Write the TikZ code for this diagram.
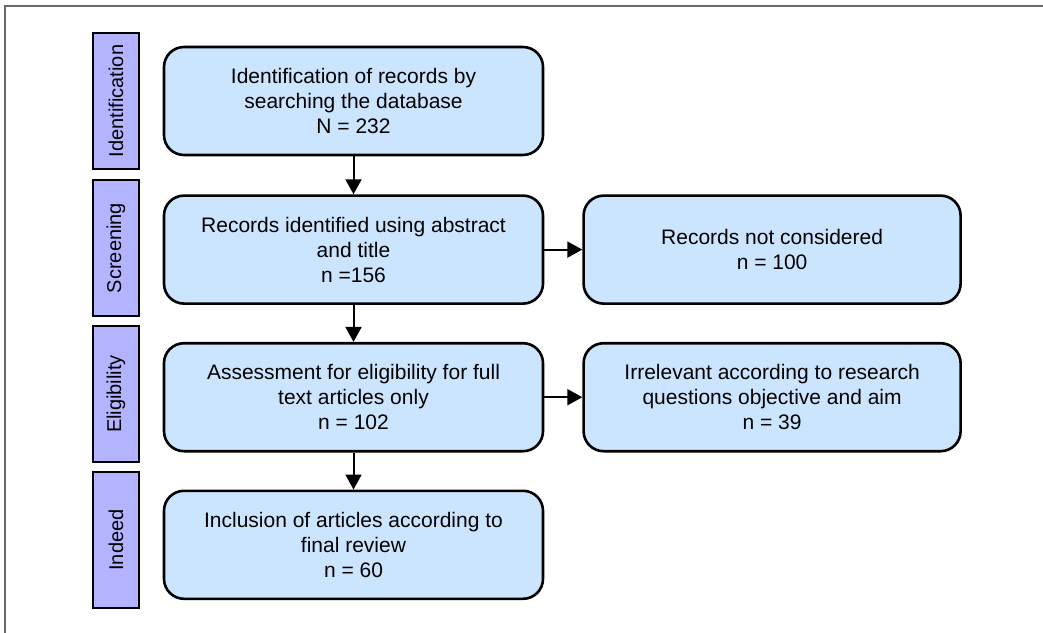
\documentclass[tikz,border=0pt]{standalone}
\usepackage{fontspec}
\setmainfont{Liberation Sans}
\usetikzlibrary{positioning,arrows.meta}
\definecolor{boxfill}{RGB}{204,229,255}
\definecolor{phasefill}{RGB}{179,179,255}
\definecolor{framegray}{RGB}{105,105,105}

\begin{document}
\begin{tikzpicture}[x=1pt,y=-1pt,font=\fontsize{21}{25}\selectfont]
   \tikzstyle{arrow} = [line width=2pt,-{Triangle[width=16pt,length=15pt]}]
   \tikzset{record/.style = {rectangle, rounded corners=20pt, draw, line width=2.6pt, fill=boxfill, align=center, minimum width=379pt, minimum height=108pt, inner sep=0pt}, }
   \tikzset{phase/.style = {rectangle, draw, line width=2.6pt, fill=phasefill, rotate=90, minimum width=136pt, minimum height=46pt, inner sep=0pt, font=\fontsize{20}{24}\selectfont}, }
   \useasboundingbox (0,0) rectangle (1043,632);
   \clip (0,0) rectangle (1043,632);
   \draw[framegray, line width=2pt] (5,6) rectangle (1060,650);

   \node[record] (search) at (353.5,101) {Identification of records by\\searching the database\\N = 232};
   \node[record, below=38pt of search] (abstract) {Records identified using abstract\\and title\\n =156};
   \node[record, below=37pt of abstract] (fulltext) {Assessment for eligibility for full\\text articles only\\n = 102};
   \node[record, below=37pt of fulltext] (review) {Inclusion of articles according to\\final review\\n = 60};

   \node[record, minimum width=377pt, right=38pt of abstract] (notconsidered) {Records not considered\\n = 100};
   \node[record, minimum width=377pt, right=38pt of fulltext] (irrelevant) {Irrelevant according to research\\questions objective and aim\\n = 39};

   \node[phase] (ident) at (116,101) {Identification};
   \node[phase] (screen) at (116,248) {Screening};
   \node[phase] (elig) at (116,394) {Eligibility};
   \node[phase] (indeed) at (116,540) {Indeed};

   % flow down
   \draw[arrow] (search) -- (abstract);
   \draw[arrow] (abstract) -- (fulltext);
   \draw[arrow] (fulltext) -- (review);

   % excluded
   \draw[arrow] (abstract) -- (notconsidered);
   \draw[arrow] (fulltext) -- (irrelevant);
\end{tikzpicture}
\end{document}
